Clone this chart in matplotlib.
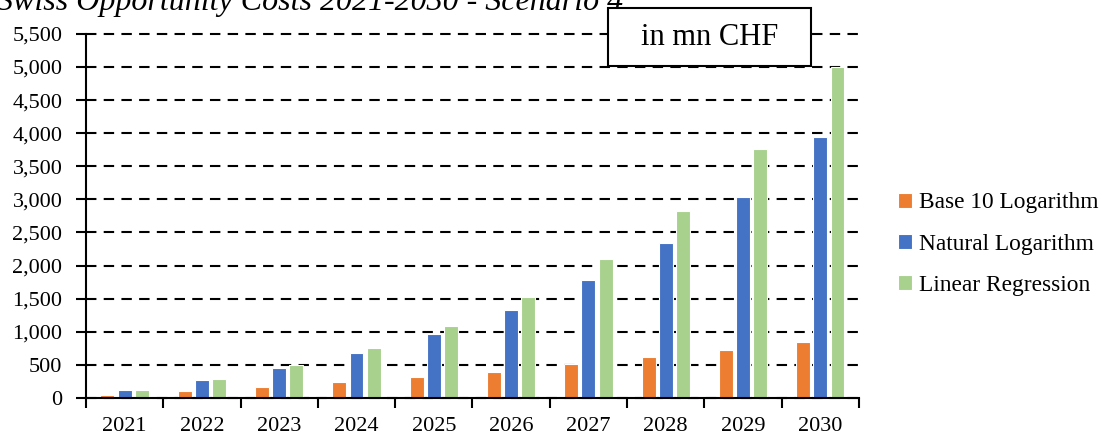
import matplotlib
matplotlib.use("Agg")
import matplotlib.pyplot as plt
from matplotlib.patches import Rectangle
from matplotlib.ticker import FuncFormatter, FixedLocator
import numpy as np

plt.rcParams['font.family'] = ['Liberation Serif', 'DejaVu Serif']

years = ["2021", "2022", "2023", "2024", "2025", "2026", "2027", "2028", "2029", "2030"]
base10_log = [45, 112, 172, 236, 318, 398, 506, 612, 720, 851]
natural_log = [117, 273, 460, 682, 970, 1333, 1779, 2344, 3040, 3937]
linear_reg = [127, 294, 500, 758, 1091, 1524, 2097, 2818, 3755, 5000]

series = [
    ("Base 10 Logarithm", base10_log, "#ED7D31"),
    ("Natural Logarithm", natural_log, "#4472C4"),
    ("Linear Regression", linear_reg, "#A9D18E"),
]

fig = plt.figure(figsize=(11.02, 4.36), dpi=100)
ax = fig.add_axes([0.078, 0.0872, 0.7015, 0.835])

x = np.arange(len(years))
width = 0.18
step = 0.222
for i, (label, vals, color) in enumerate(series):
    ax.bar(x + (i - 1) * step, vals, width=width, color=color,
           edgecolor="white", linewidth=0.8, label=label, zorder=3)

ax.set_xlim(-0.5, len(years) - 0.5)
ax.set_ylim(0, 5500)
ax.set_yticks(np.arange(0, 5501, 500))
ax.yaxis.set_major_formatter(FuncFormatter(lambda v, p: f"{int(v):,}"))

# category boundaries carry the tick marks, centres carry the labels
ax.xaxis.set_major_locator(FixedLocator(np.arange(-0.5, len(years), 1.0)))
ax.xaxis.set_major_formatter(FuncFormatter(lambda v, p: ""))
ax.xaxis.set_minor_locator(FixedLocator(x))
ax.set_xticklabels(years, minor=True)
ax.tick_params(axis="x", which="major", direction="out", length=7, width=1.5)
ax.tick_params(axis="x", which="minor", length=0, pad=14, labelsize=16)
ax.tick_params(axis="y", direction="out", length=7, width=1.5, pad=10, labelsize=16)

ax.yaxis.grid(True, color="black", linestyle=(0, (5, 3.5)), linewidth=1.5, zorder=0)
ax.set_axisbelow(True)
for line in ax.get_ygridlines():
    line.set_clip_on(False)
for side in ("top", "right"):
    ax.spines[side].set_visible(False)
for side in ("left", "bottom"):
    ax.spines[side].set_linewidth(1.5)
    ax.spines[side].set_zorder(4)

fig.text(-0.003, 0.977, "Swiss Opportunity Costs 2021-2030 - Scenario 4",
         fontsize=23, style="italic", va="baseline", ha="left")

box = Rectangle((0.5517, 0.8486), 0.1842, 0.133, transform=fig.transFigure,
                facecolor="white", edgecolor="black", linewidth=1.5, zorder=5)
fig.patches.append(box)
fig.text(0.6438, 0.915, "in mn CHF", fontsize=22, ha="center", va="center", zorder=6)

leg = ax.legend(loc="center left", bbox_to_anchor=(0.8045, 0.440),
                bbox_transform=fig.transFigure, frameon=False, fontsize=16.8,
                handlelength=0.6, handleheight=0.6, handletextpad=0.3,
                labelspacing=0.87, borderpad=0)

fig.savefig("out.png", dpi=100)
